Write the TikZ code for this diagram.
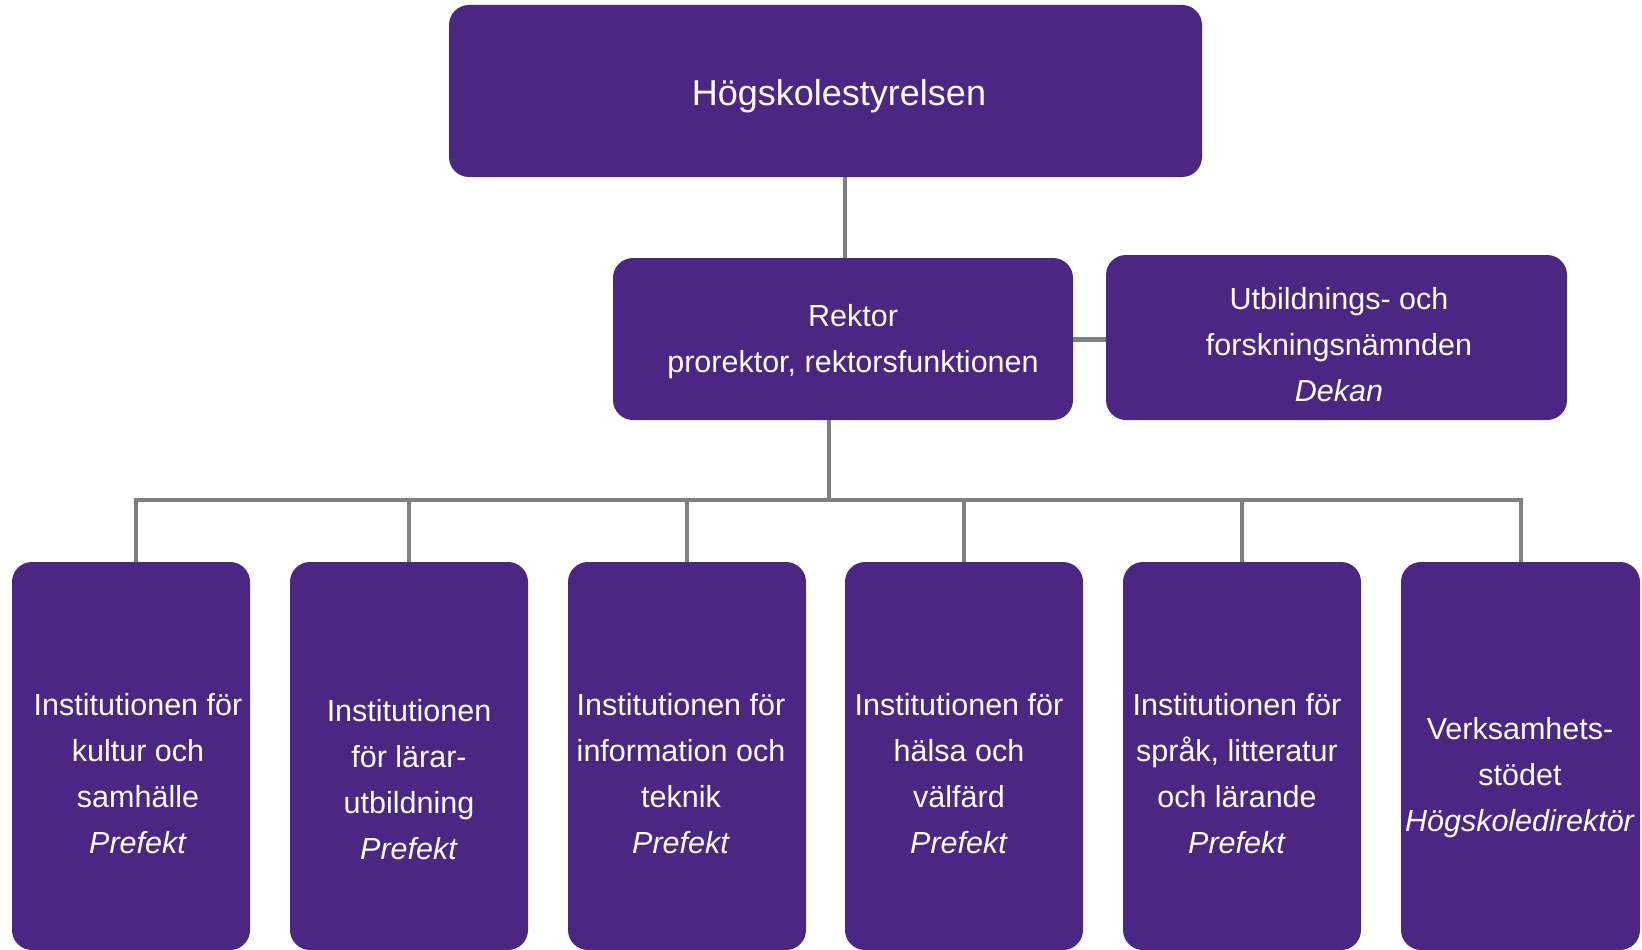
\documentclass[tikz,border=0pt]{standalone}
\usepackage{fontspec}
\setmainfont{Liberation Sans}
\definecolor{hbpurple}{RGB}{75,38,130}
\definecolor{hbgray}{RGB}{128,128,128}
\begin{document}
\begin{tikzpicture}[x=1pt,y=-1pt,
  box/.style={fill=hbpurple, rounded corners=20pt, inner sep=0pt, draw=none},
  lowbox/.style={box, minimum width=238pt, minimum height=388pt},
  txt/.style={text=white, align=center, inner sep=0pt, font=\fontsize{30.5}{46}\selectfont},
  link/.style={draw=hbgray, line width=4pt}]
\useasboundingbox (0,0) rectangle (1642,950);

% boxes
\node[box, minimum width=753pt, minimum height=172pt] (top) at (825.5,91) {};
\node[box, minimum width=460pt, minimum height=162pt] (rektor) at (843,339) {};
\node[box, minimum width=461pt, minimum height=165pt] (utb) at (1336.5,337.5) {};
\node[lowbox] (b1) at (131,756) {};
\node[lowbox] (b2) at (409,756) {};
\node[lowbox] (b3) at (687,756) {};
\node[lowbox] (b4) at (964,756) {};
\node[lowbox] (b5) at (1242,756) {};
\node[lowbox, minimum width=239pt] (b6) at (1520.5,756) {};

% texts
\node[txt, font=\fontsize{36}{46}\selectfont] (ttop) at (839,96.5) {Högskolestyrelsen};
\node[txt] (trektor) at (853,342) {Rektor\\prorektor, rektorsfunktionen};
\node[txt] (tutb) at (1339,345) {Utbildnings- och\\forskningsnämnden\\\textit{Dekan}};
\node[txt] (tb1) at (138,774) {Institutionen för\\kultur och\\samhälle\\\textit{Prefekt}};
\node[txt] (tb2) at (409,780) {Institutionen\\för lärar-\\utbildning\\\textit{Prefekt}};
\node[txt] (tb3) at (681,774) {Institutionen för\\information och\\teknik\\\textit{Prefekt}};
\node[txt] (tb4) at (959,774) {Institutionen för\\hälsa och\\välfärd\\\textit{Prefekt}};
\node[txt] (tb5) at (1237,774) {Institutionen för\\språk, litteratur\\och lärande\\\textit{Prefekt}};
\node[txt] (tb6) at (1520,778) {Verksamhets-\\stödet\\\textit{Högskoledirektör}};

% connectors
\coordinate (bus) at (829,500);
\coordinate (drop1) at (136,500);
\coordinate (upper) at (845,258);
\draw[link] (rektor.north -| upper) -- (upper |- top.south);
\draw[link, line width=5pt] (rektor.east) -- (rektor.east -| utb.west);
\draw[link] (rektor.south -| bus) -- (bus);
\draw[link] (b1.north -| drop1) -- (drop1) -- (b6.north |- bus) -- (b6.north);
\foreach \b in {b2,b3,b4,b5}{
  \draw[link] (\b.north) -- (\b.north |- bus);
}
\end{tikzpicture}
\end{document}
